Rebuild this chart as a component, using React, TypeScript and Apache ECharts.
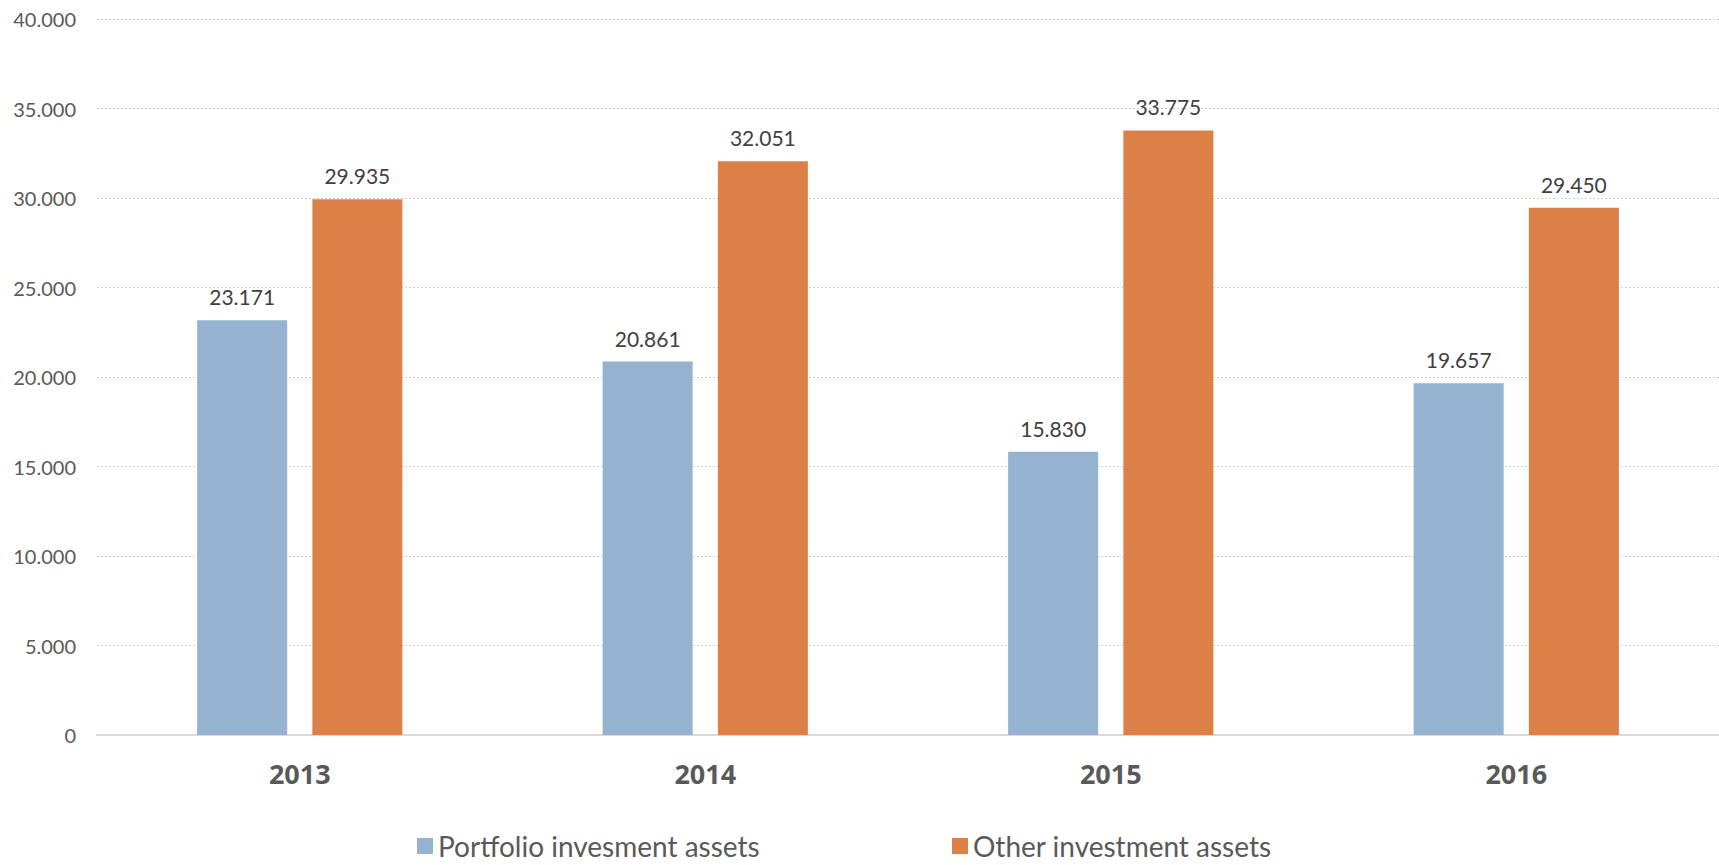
import React, { useEffect, useRef } from "react";
import * as echarts from "echarts";

const years = ["2013", "2014", "2015", "2016"];
const portfolio = [23171, 20861, 15830, 19657];
const other = [29935, 32051, 33775, 29450];
const seriesNames = ["Portfolio invesment assets", "Other investment assets"];

const fmt = (v: number) => {
  const s = Math.round(v).toString();
  return s.replace(/\B(?=(\d{3})+(?!\d))/g, ".");
};

export default function App() {
  const ref = useRef<HTMLDivElement>(null);
  useEffect(() => {
    if (!ref.current) return;
    const chart = echarts.init(ref.current, undefined, { renderer: "svg" });
    const labelStyle = {
      show: true,
      position: "top" as const,
      distance: 13,
      color: "#404040",
      fontSize: 21,
      fontFamily: "Lato",
      formatter: (p: any) => fmt(p.value),
    };
    const legendText = { fontSize: 28, color: "#595959", fontFamily: "Lato" };
    chart.setOption({
      animation: false,
      backgroundColor: "#ffffff",
      grid: { left: 97, right: 0, top: 19, bottom: 130, containLabel: false },
      legend: [
        {
          data: [seriesNames[0]],
          left: 412,
          top: 827,
          icon: "rect",
          itemWidth: 16,
          itemHeight: 16,
          itemGap: 6,
          textStyle: legendText,
        },
        {
          data: [seriesNames[1]],
          left: 947,
          top: 827,
          icon: "rect",
          itemWidth: 16,
          itemHeight: 16,
          itemGap: 6,
          textStyle: legendText,
        },
      ],
      xAxis: {
        type: "category",
        data: years,
        axisTick: { show: false },
        axisLine: { lineStyle: { color: "#d9d9d9", width: 2 } },
        axisLabel: {
          margin: 25,
          fontSize: 27,
          fontWeight: "bold",
          color: "#595959",
          fontFamily: "Open Sans",
        },
      },
      yAxis: {
        type: "value",
        min: 0,
        max: 40000,
        interval: 5000,
        axisLine: { show: false },
        axisTick: { show: false },
        axisLabel: {
          margin: 21,
          fontSize: 20,
          color: "#595959",
          fontFamily: "Lato",
          formatter: (v: number) => fmt(v),
        },
        splitLine: { lineStyle: { color: "#d0d0d0", type: [2, 2], width: 1 } },
      },
      series: [
        {
          name: seriesNames[0],
          type: "bar",
          data: portfolio,
          barWidth: "22.2%",
          barGap: "28%",
          itemStyle: { color: "#95B3D1" },
          label: labelStyle,
        },
        {
          name: seriesNames[1],
          type: "bar",
          data: other,
          barWidth: "22.2%",
          barGap: "28%",
          itemStyle: { color: "#DD8047" },
          label: labelStyle,
        },
      ],
    });
    return () => chart.dispose();
  }, []);
  return (
    <div
      ref={ref}
      style={{ position: "fixed", left: 0, top: 0, width: 1719, height: 865, background: "#fff" }}
    />
  );
}
